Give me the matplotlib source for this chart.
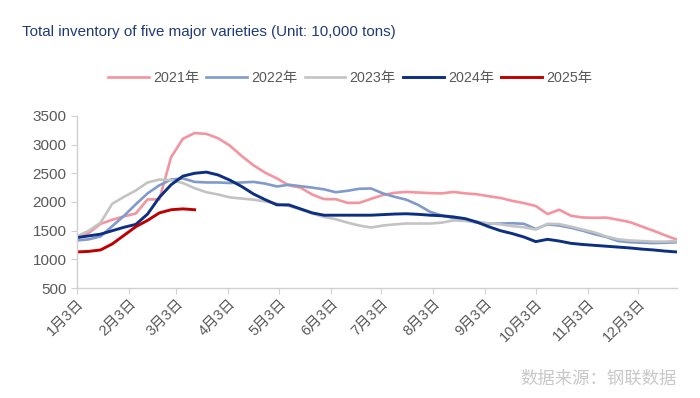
import matplotlib
matplotlib.use("Agg")
import matplotlib.pyplot as plt

plt.rcParams['font.family'] = ['Liberation Sans', 'Noto Sans CJK SC', 'DejaVu Sans']

# weekly points, x = days after 1月3日
weeks = list(range(52))
days = [7 * w for w in weeks]

y2021 = [1400, 1460, 1620, 1690, 1750, 1800, 2045, 2045, 2780, 3100,
         3200, 3185, 3110, 2980, 2800, 2640, 2510, 2410, 2290, 2250,
         2130, 2050, 2048, 1985, 1985, 2055, 2120, 2160, 2175, 2165,
         2155, 2150, 2175, 2150, 2135, 2100, 2070, 2020, 1980, 1930,
         1790, 1865, 1760, 1730, 1725, 1728, 1690, 1650, 1575, 1500,
         1420, 1345]
y2022 = [1330, 1350, 1400, 1580, 1760, 1960, 2150, 2290, 2390, 2410,
         2350, 2340, 2340, 2330, 2340, 2350, 2320, 2270, 2300, 2275,
         2250, 2220, 2170, 2195, 2230, 2235, 2150, 2090, 2040, 1950,
         1830, 1765, 1720, 1680, 1640, 1620, 1625, 1630, 1620, 1530,
         1610, 1590, 1550, 1500, 1440, 1390, 1320, 1300, 1290, 1285,
         1290, 1300]
y2023 = [1400, 1500, 1640, 1970, 2090, 2200, 2340, 2390, 2380, 2330,
         2240, 2170, 2130, 2080, 2060, 2040, 2010, 1970, 1930, 1870,
         1800, 1740, 1700, 1640, 1590, 1555, 1590, 1610, 1625, 1625,
         1625, 1640, 1680, 1670, 1655, 1630, 1610, 1580, 1560, 1520,
         1620, 1615, 1570, 1520, 1470, 1400, 1350, 1330, 1320, 1310,
         1310, 1320]
y2024 = [1380, 1410, 1440, 1500, 1560, 1610, 1790, 2080, 2300, 2450,
         2500, 2520, 2470, 2380, 2270, 2140, 2040, 1950, 1950, 1880,
         1810, 1770, 1770, 1770, 1770, 1770, 1780, 1790, 1795, 1785,
         1770, 1760, 1740, 1710, 1650, 1570, 1500, 1450, 1390, 1310,
         1350, 1320, 1280, 1260, 1245, 1230, 1215, 1200, 1180, 1165,
         1145, 1130]
y2025 = [1130, 1140, 1165, 1270, 1420, 1570, 1680, 1810, 1865, 1880, 1865]

tick_days = [0, 31, 59, 90, 120, 151, 181, 212, 243, 273, 304, 334]
tick_labels = ['1月3日', '2月3日', '3月3日', '4月3日', '5月3日', '6月3日',
               '7月3日', '8月3日', '9月3日', '10月3日', '11月3日', '12月3日']

fig = plt.figure(figsize=(7, 3.98), dpi=100)
ax = fig.add_axes([0.110, 0.276, 0.857, 0.433])

ax.plot(days, y2021, color='#f4949f', lw=1.9, label='2021年')
ax.plot(days, y2022, color='#7f9acb', lw=1.9, label='2022年')
ax.plot(days, y2023, color='#c3c3c3', lw=1.9, label='2023年')
ax.plot(days, y2024, color='#0d2f82', lw=2.1, label='2024年')
ax.plot(days[:len(y2025)], y2025, color='#c00000', lw=2.1, label='2025年')

ax.set_xlim(0, 357)
ax.set_ylim(500, 3500)
ax.set_yticks(range(500, 3501, 500))
ax.set_xticks(tick_days)
ax.set_xticklabels(tick_labels, rotation=45, ha='right', rotation_mode='anchor')

for s in ['top', 'right']:
    ax.spines[s].set_visible(False)
for s in ['left', 'bottom']:
    ax.spines[s].set_color('#d0d0d0')
    ax.spines[s].set_linewidth(1.0)
ax.tick_params(axis='both', colors='#d0d0d0', labelcolor='#595959', labelsize=11, length=4)
ax.tick_params(axis='x', pad=2, labelsize=10.5)

fig.text(0.031, 0.92, 'Total inventory of five major varieties (Unit: 10,000 tons)',
         color='#1f3a78', fontsize=10.9, va='center', ha='left')

fig.legend(loc='center', bbox_to_anchor=(0.50, 0.804), ncol=5, frameon=False,
           fontsize=10.3, handlelength=2.85, handletextpad=0.3, columnspacing=0.5,
           labelcolor='#595959')

fig.text(0.966, 0.048, '数据来源：钢联数据', color='#c8c8c8', fontsize=12.5,
         ha='right', va='center', family=['Noto Sans CJK SC', 'DejaVu Sans'])

fig.savefig('out.png', dpi=100)
